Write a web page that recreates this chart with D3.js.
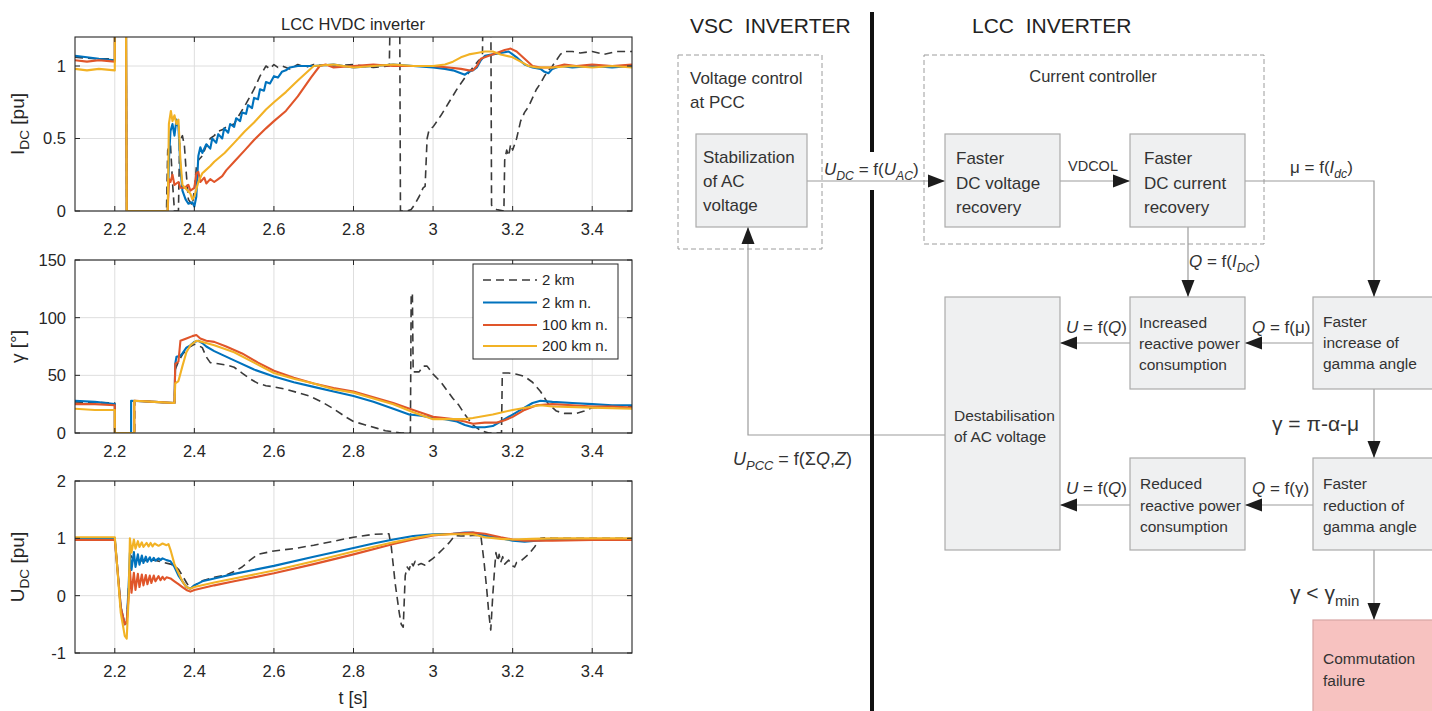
<!DOCTYPE html>
<html>
<head>
<meta charset="utf-8">
<script src="https://cdn.jsdelivr.net/npm/d3@7"></script>
<style>
  body { margin: 0; background: #fff; }
  svg { display: block; font-family: "Liberation Sans", Arial, sans-serif; }
</style>
</head>
<body>
<svg id="fig" width="1432" height="711"></svg>
<script>
// ---- data ----
const tTicks = [2.2, 2.4, 2.6, 2.8, 3, 3.2, 3.4];
const idcTicks = [0, 0.5, 1];
const gammaTicks = [0, 50, 100, 150];
const udcTicks = [-1, 0, 1, 2];
const seriesNames = ['2 km', '2 km n.', '100 km n.', '200 km n.'];

// I_DC [pu]  (values above 1.2 are off the axes and get clipped)
const idc2km = [[2.1,1.06],[2.15,1.05],[2.2,1.05],[2.2,1.5],[2.228,1.5],[2.23,0],[2.33,0],[2.333,0.42],[2.34,0.46],[2.345,0.2],[2.35,0],[2.36,0],[2.363,0.48],[2.37,0.52],[2.375,0.45],[2.38,0.25],[2.385,0.08],[2.395,0.04],[2.4,0.15],[2.405,0.3],[2.41,0.35],[2.42,0.38],[2.43,0.45],[2.44,0.5],[2.45,0.52],[2.46,0.55],[2.47,0.56],[2.48,0.58],[2.5,0.6],[2.51,0.65],[2.53,0.74],[2.55,0.84],[2.565,0.93],[2.58,1.0],[2.59,0.98],[2.6,1.01],[2.61,0.99],[2.62,1.0],[2.64,0.98],[2.66,1.01],[2.68,0.99],[2.7,1.01],[2.75,1.0],[2.8,1.01],[2.85,0.99],[2.89,1.0],[2.893,1.5],[2.916,1.5],[2.918,0],[2.935,0],[2.945,0.01],[2.955,0.05],[2.965,0.1],[2.975,0.16],[2.98,0.17],[2.985,0.5],[2.99,0.56],[3.0,0.58],[3.01,0.62],[3.02,0.66],[3.04,0.75],[3.06,0.84],[3.08,0.92],[3.1,0.99],[3.115,1.04],[3.124,1.05],[3.126,1.5],[3.145,1.5],[3.147,0.04],[3.16,0.01],[3.178,0.0],[3.18,0.35],[3.185,0.42],[3.19,0.38],[3.195,0.46],[3.2,0.42],[3.21,0.5],[3.22,0.62],[3.23,0.68],[3.24,0.72],[3.25,0.78],[3.26,0.84],[3.27,0.88],[3.28,0.93],[3.29,0.97],[3.3,1.0],[3.31,1.04],[3.32,1.08],[3.33,1.1],[3.35,1.1],[3.37,1.09],[3.4,1.1],[3.43,1.08],[3.46,1.1],[3.5,1.1]];
const idc2kmN = [[2.1,1.07],[2.13,1.06],[2.16,1.05],[2.2,1.04],[2.2,1.5],[2.228,1.5],[2.23,0],[2.333,0],[2.336,0.35],[2.34,0.55],[2.345,0.6],[2.35,0.52],[2.355,0.63],[2.36,0.58],[2.365,0.3],[2.37,0.14],[2.378,0.08],[2.385,0.05],[2.395,0.06],[2.4,0.03],[2.405,0.1],[2.41,0.38],[2.415,0.44],[2.42,0.4],[2.43,0.46],[2.44,0.43],[2.445,0.5],[2.455,0.47],[2.46,0.53],[2.47,0.5],[2.475,0.57],[2.485,0.54],[2.49,0.6],[2.5,0.58],[2.505,0.64],[2.515,0.62],[2.52,0.68],[2.53,0.67],[2.535,0.73],[2.545,0.71],[2.55,0.78],[2.56,0.77],[2.565,0.84],[2.575,0.83],[2.58,0.89],[2.59,0.88],[2.6,0.93],[2.61,0.92],[2.62,0.96],[2.63,0.97],[2.64,0.99],[2.66,1.0],[2.7,1.0],[2.75,1.01],[2.8,0.99],[2.85,1.0],[2.9,1.01],[2.95,1.0],[3.0,0.99],[3.03,0.98],[3.05,0.97],[3.07,0.95],[3.08,0.94],[3.09,0.96],[3.1,0.97],[3.11,0.99],[3.12,1.04],[3.13,1.07],[3.15,1.08],[3.17,1.09],[3.19,1.1],[3.2,1.08],[3.21,1.06],[3.23,1.01],[3.25,0.99],[3.27,0.98],[3.28,0.96],[3.29,0.95],[3.3,0.98],[3.32,1.0],[3.35,0.99],[3.4,1.0],[3.45,0.99],[3.5,1.0]];
const idc100kmN = [[2.1,1.04],[2.13,1.03],[2.16,1.04],[2.2,1.03],[2.2,1.5],[2.228,1.5],[2.23,0],[2.333,0],[2.336,0.22],[2.34,0.2],[2.345,0.25],[2.35,0.18],[2.36,0.2],[2.365,0.16],[2.375,0.16],[2.385,0.18],[2.39,0.14],[2.4,0.16],[2.405,0.26],[2.41,0.27],[2.415,0.2],[2.425,0.23],[2.43,0.19],[2.44,0.22],[2.45,0.2],[2.46,0.22],[2.47,0.24],[2.48,0.28],[2.5,0.34],[2.527,0.42],[2.55,0.49],[2.58,0.57],[2.6,0.62],[2.63,0.69],[2.66,0.79],[2.693,0.92],[2.715,1.0],[2.73,1.01],[2.75,0.99],[2.8,1.0],[2.85,1.01],[2.9,1.0],[2.95,1.0],[3.0,1.0],[3.04,0.99],[3.07,0.98],[3.09,0.97],[3.1,0.97],[3.11,1.0],[3.12,1.05],[3.14,1.07],[3.16,1.09],[3.18,1.11],[3.195,1.12],[3.21,1.1],[3.23,1.05],[3.25,1.0],[3.27,0.99],[3.3,0.99],[3.33,1.01],[3.36,1.0],[3.4,1.01],[3.45,1.0],[3.5,1.01]];
const idc200kmN = [[2.1,0.98],[2.13,0.97],[2.16,0.98],[2.2,0.97],[2.2,1.5],[2.228,1.5],[2.23,0],[2.333,0],[2.336,0.6],[2.341,0.69],[2.345,0.62],[2.35,0.66],[2.355,0.6],[2.36,0.63],[2.365,0.35],[2.37,0.18],[2.38,0.15],[2.39,0.12],[2.395,0.08],[2.4,0.1],[2.41,0.2],[2.42,0.26],[2.424,0.27],[2.44,0.31],[2.45,0.34],[2.476,0.4],[2.5,0.47],[2.527,0.55],[2.55,0.61],[2.58,0.7],[2.6,0.75],[2.63,0.82],[2.66,0.9],[2.68,0.95],[2.7,1.0],[2.75,1.01],[2.8,0.99],[2.85,1.0],[2.9,1.01],[2.95,1.0],[3.0,1.0],[3.03,1.01],[3.05,1.03],[3.07,1.06],[3.09,1.08],[3.11,1.09],[3.13,1.1],[3.15,1.1],[3.17,1.08],[3.2,1.06],[3.22,1.03],[3.24,1.0],[3.26,0.99],[3.3,0.99],[3.35,1.0],[3.4,0.99],[3.45,1.0],[3.5,0.99]];

// gamma [deg]
const gamma2km = [[2.1,27],[2.2,26],[2.2,0],[2.25,0],[2.25,28],[2.3,27],[2.35,26],[2.352,55],[2.36,62],[2.37,68],[2.38,72],[2.39,75],[2.4,77],[2.41,76],[2.42,74],[2.43,66],[2.44,61],[2.46,60],[2.48,59],[2.5,57],[2.52,52],[2.54,47],[2.56,43],[2.58,41],[2.6,40],[2.63,38],[2.66,35],[2.69,32],[2.72,27],[2.75,21],[2.78,14],[2.8,10],[2.83,7],[2.86,4],[2.88,2],[2.9,1],[2.92,0],[2.943,0],[2.945,121],[2.948,121],[2.95,53],[2.965,53],[2.975,58],[2.985,58],[3.0,51],[3.02,44],[3.035,37],[3.05,30],[3.065,24],[3.08,16],[3.1,7],[3.12,2],[3.14,0],[3.172,0],[3.174,52],[3.19,52],[3.21,51],[3.23,49],[3.25,44],[3.27,36],[3.29,25],[3.31,19],[3.33,17],[3.36,17],[3.38,19],[3.4,22],[3.45,23],[3.5,23]];
const gamma2kmN = [[2.1,28],[2.15,27],[2.2,25],[2.2,0],[2.241,0],[2.241,28],[2.3,27],[2.35,26],[2.352,60],[2.355,66],[2.365,67],[2.37,69],[2.38,74],[2.39,76],[2.4,79],[2.41,80],[2.42,78],[2.43,75],[2.45,71],[2.5,63],[2.55,55],[2.6,49],[2.65,44],[2.7,40],[2.75,36],[2.8,32],[2.85,27],[2.9,21],[2.94,16],[2.97,15],[3.0,13],[3.03,12],[3.06,10],[3.08,7],[3.1,5],[3.13,5],[3.15,6],[3.17,10],[3.2,16],[3.22,20],[3.25,26],[3.27,28],[3.3,27],[3.35,26],[3.4,25],[3.45,24],[3.5,24]];
const gamma100kmN = [[2.1,25],[2.15,25],[2.2,24],[2.2,0],[2.249,0],[2.249,28],[2.3,27],[2.35,26],[2.352,60],[2.36,62],[2.365,80],[2.38,82],[2.395,84],[2.405,85],[2.415,82],[2.43,80],[2.45,79],[2.48,75],[2.52,69],[2.56,61],[2.6,54],[2.65,48],[2.7,43],[2.75,39],[2.8,36],[2.85,31],[2.9,26],[2.95,20],[3.0,14],[3.05,12],[3.08,10],[3.1,8],[3.13,9],[3.16,9],[3.18,11],[3.2,14],[3.23,20],[3.26,24],[3.3,25],[3.35,24],[3.4,23],[3.45,23],[3.5,22]];
const gamma200kmN = [[2.1,21],[2.15,20],[2.2,20],[2.2,0],[2.249,0],[2.249,28],[2.3,27],[2.35,26],[2.352,43],[2.36,45],[2.37,58],[2.38,70],[2.39,76],[2.405,80],[2.42,79],[2.45,76],[2.5,70],[2.55,61],[2.6,52],[2.65,47],[2.7,43],[2.75,38],[2.8,35],[2.85,30],[2.9,25],[2.95,18],[3.0,12],[3.05,12],[3.08,12],[3.1,13],[3.15,16],[3.2,20],[3.25,23],[3.27,24],[3.3,23],[3.4,22],[3.5,21]];

// U_DC [pu]
const udc2km = [[2.1,1.0],[2.2,1.0],[2.205,0.6],[2.215,-0.2],[2.225,-0.5],[2.23,-0.48],[2.235,0.2],[2.24,0.7],[2.25,0.6],[2.3,0.62],[2.34,0.55],[2.35,0.52],[2.36,0.46],[2.37,0.35],[2.38,0.23],[2.39,0.12],[2.4,0.18],[2.42,0.26],[2.45,0.32],[2.48,0.36],[2.5,0.42],[2.52,0.5],[2.54,0.62],[2.56,0.72],[2.6,0.78],[2.65,0.82],[2.7,0.88],[2.75,0.95],[2.8,1.02],[2.85,1.07],[2.889,1.08],[2.895,0.85],[2.905,0.2],[2.915,-0.3],[2.92,-0.5],[2.925,-0.55],[2.93,0.35],[2.935,0.5],[2.94,0.45],[2.945,0.58],[2.95,0.52],[2.955,0.6],[2.96,0.53],[2.97,0.56],[2.98,0.53],[2.99,0.6],[3.0,0.65],[3.02,0.78],[3.04,0.92],[3.055,1.05],[3.07,1.04],[3.1,1.05],[3.12,1.05],[3.128,0.6],[3.135,0.1],[3.14,-0.3],[3.145,-0.6],[3.15,0.0],[3.155,0.5],[3.158,0.75],[3.163,0.6],[3.166,0.72],[3.17,0.58],[3.175,0.68],[3.18,0.55],[3.19,0.62],[3.2,0.52],[3.205,0.5],[3.21,0.58],[3.22,0.6],[3.24,0.72],[3.255,0.85],[3.27,1.0],[3.28,1.01],[3.3,1.0],[3.35,1.0],[3.4,1.0],[3.5,1.0]];
const udc2kmN = [[2.1,1.0],[2.2,1.0],[2.205,0.6],[2.215,-0.2],[2.225,-0.5],[2.23,-0.48],[2.235,0.2],[2.238,0.75],[2.242,0.45],[2.248,0.76],[2.252,0.5],[2.258,0.72],[2.262,0.54],[2.268,0.7],[2.272,0.57],[2.278,0.68],[2.282,0.59],[2.288,0.67],[2.292,0.6],[2.298,0.66],[2.302,0.61],[2.31,0.65],[2.315,0.62],[2.32,0.65],[2.33,0.62],[2.34,0.6],[2.35,0.5],[2.36,0.35],[2.37,0.25],[2.38,0.15],[2.39,0.12],[2.4,0.18],[2.42,0.25],[2.45,0.3],[2.5,0.38],[2.6,0.52],[2.7,0.68],[2.8,0.83],[2.85,0.91],[2.9,0.98],[2.95,1.04],[3.0,1.07],[3.05,1.08],[3.08,1.1],[3.1,1.1],[3.13,1.05],[3.17,1.0],[3.2,0.96],[3.23,0.94],[3.26,0.96],[3.3,0.98],[3.4,0.98],[3.5,0.99]];
const udc100kmN = [[2.1,0.97],[2.2,0.97],[2.205,0.6],[2.215,-0.2],[2.225,-0.5],[2.23,-0.45],[2.235,0.0],[2.238,0.45],[2.242,0.05],[2.248,0.4],[2.252,0.1],[2.258,0.38],[2.262,0.15],[2.268,0.37],[2.272,0.18],[2.278,0.36],[2.282,0.2],[2.288,0.35],[2.292,0.22],[2.298,0.35],[2.302,0.25],[2.31,0.34],[2.315,0.27],[2.32,0.33],[2.325,0.28],[2.33,0.32],[2.34,0.3],[2.35,0.25],[2.36,0.2],[2.37,0.15],[2.38,0.1],[2.39,0.07],[2.4,0.1],[2.45,0.18],[2.5,0.25],[2.6,0.39],[2.7,0.55],[2.8,0.72],[2.9,0.9],[2.95,0.98],[3.0,1.05],[3.05,1.08],[3.1,1.1],[3.13,1.08],[3.17,1.02],[3.2,0.98],[3.23,0.96],[3.3,0.96],[3.4,0.97],[3.5,0.97]];
const udc200kmN = [[2.1,1.02],[2.2,1.02],[2.205,0.6],[2.215,-0.3],[2.225,-0.7],[2.23,-0.75],[2.235,0.0],[2.238,1.0],[2.242,0.75],[2.248,0.98],[2.252,0.82],[2.258,0.95],[2.262,0.85],[2.268,0.93],[2.272,0.85],[2.28,0.92],[2.285,0.86],[2.29,0.92],[2.295,0.86],[2.3,0.91],[2.31,0.87],[2.32,0.91],[2.33,0.88],[2.335,0.9],[2.34,0.8],[2.35,0.55],[2.36,0.4],[2.37,0.25],[2.38,0.15],[2.39,0.12],[2.4,0.15],[2.45,0.23],[2.5,0.3],[2.6,0.44],[2.7,0.6],[2.8,0.77],[2.9,0.93],[2.95,1.0],[3.0,1.06],[3.05,1.07],[3.1,1.07],[3.13,1.02],[3.17,0.99],[3.2,0.98],[3.25,0.99],[3.3,1.0],[3.5,1.0]];

// ---- styles ----
const FONT = '"Liberation Sans", Arial, sans-serif';
const AXC = '#262626';
const lineStyles = [
  { color: '#3a3a3a', width: 1.6, dash: '8,5' },
  { color: '#0072BD', width: 2.1, dash: null },
  { color: '#E0552A', width: 2.1, dash: null },
  { color: '#F2B225', width: 2.1, dash: null }
];

const svg = d3.select('#fig');
const x = d3.scaleLinear().domain([2.1, 3.5]).range([75, 632]);

const panels = [
  { id: 'p1', top: 37, bottom: 211, domain: [0, 1.2], ticks: idcTicks, series: [idc2km, idc2kmN, idc100kmN, idc200kmN],
    label: [{ t: 'I' }, { t: 'DC', sub: true }, { t: ' [pu]' }] },
  { id: 'p2', top: 260, bottom: 433, domain: [0, 150], ticks: gammaTicks, series: [gamma2km, gamma2kmN, gamma100kmN, gamma200kmN],
    label: [{ t: 'γ [°]' }] },
  { id: 'p3', top: 481, bottom: 653, domain: [-1, 2], ticks: udcTicks, series: [udc2km, udc2kmN, udc100kmN, udc200kmN],
    label: [{ t: 'U' }, { t: 'DC', sub: true }, { t: ' [pu]' }] }
];

// rich text helper: parts with italic / subscript
function rich(g, px, py, parts, size, opts = {}) {
  const t = g.append('text').attr('x', px).attr('y', py)
    .attr('font-size', size).attr('fill', opts.fill || '#333');
  if (opts.anchor) t.attr('text-anchor', opts.anchor);
  if (opts.transform) t.attr('transform', opts.transform);
  let shift = 0;
  parts.forEach(p => {
    const s = t.append('tspan').text(p.t);
    const target = p.sub ? size * 0.28 : 0;
    if (target !== shift) { s.attr('dy', target - shift); shift = target; }
    if (p.sub) s.attr('font-size', size * (p.subSize || 0.72));
    if (p.i) s.attr('font-style', 'italic');
  });
  return t;
}

const [x0, x1] = x.range();
panels.forEach(p => {
  const y = d3.scaleLinear().domain(p.domain).range([p.bottom, p.top]);
  const g = svg.append('g');

  g.append('rect').attr('x', x0).attr('y', p.top).attr('width', x1 - x0).attr('height', p.bottom - p.top).attr('fill', '#fff');

  // grid
  g.selectAll('.gx').data(tTicks).join('line')
    .attr('x1', d => x(d)).attr('x2', d => x(d)).attr('y1', p.top).attr('y2', p.bottom)
    .attr('stroke', '#dedede').attr('stroke-width', 1);
  g.selectAll('.gy').data(p.ticks).join('line')
    .attr('x1', x0).attr('x2', x1).attr('y1', d => y(d)).attr('y2', d => y(d))
    .attr('stroke', '#dedede').attr('stroke-width', 1);

  // series
  svg.append('clipPath').attr('id', 'clip-' + p.id).append('rect')
    .attr('x', x0).attr('y', p.top).attr('width', x1 - x0).attr('height', p.bottom - p.top);
  const line = d3.line().x(d => x(d[0])).y(d => y(d[1]));
  const lg = g.append('g').attr('clip-path', `url(#clip-${p.id})`);
  p.series.forEach((s, i) => {
    const st = lineStyles[i];
    lg.append('path').datum(s).attr('d', line).attr('fill', 'none')
      .attr('stroke', st.color).attr('stroke-width', st.width)
      .attr('stroke-dasharray', st.dash).attr('stroke-linejoin', 'round');
  });

  // box + ticks
  g.append('rect').attr('x', x0).attr('y', p.top).attr('width', x1 - x0).attr('height', p.bottom - p.top)
    .attr('fill', 'none').attr('stroke', AXC).attr('stroke-width', 1.1);
  const tl = 5;
  tTicks.forEach(v => {
    g.append('line').attr('x1', x(v)).attr('x2', x(v)).attr('y1', p.bottom).attr('y2', p.bottom - tl).attr('stroke', AXC);
    g.append('line').attr('x1', x(v)).attr('x2', x(v)).attr('y1', p.top).attr('y2', p.top + tl).attr('stroke', AXC);
    g.append('text').attr('x', x(v)).attr('y', p.bottom + 24).attr('text-anchor', 'middle')
      .attr('font-size', 16.5).attr('fill', AXC).text(String(v));
  });
  p.ticks.forEach(v => {
    g.append('line').attr('x1', x0).attr('x2', x0 + tl).attr('y1', y(v)).attr('y2', y(v)).attr('stroke', AXC);
    g.append('line').attr('x1', x1).attr('x2', x1 - tl).attr('y1', y(v)).attr('y2', y(v)).attr('stroke', AXC);
    g.append('text').attr('x', 66).attr('y', y(v)).attr('dy', '0.36em').attr('text-anchor', 'end')
      .attr('font-size', 16.5).attr('fill', AXC).text(String(v));
  });

  // y label
  const cy = (p.top + p.bottom) / 2;
  rich(g, 0, 0, p.label, 19, { fill: AXC, anchor: 'middle', transform: `translate(24,${cy}) rotate(-90)` });
});

// title and x label
svg.append('text').attr('x', 353).attr('y', 30).attr('text-anchor', 'middle')
  .attr('font-size', 16.5).attr('fill', AXC).text('LCC HVDC inverter');
svg.append('text').attr('x', 353).attr('y', 704).attr('text-anchor', 'middle')
  .attr('font-size', 18).attr('fill', AXC).text('t [s]');

// legend in the gamma panel
const leg = svg.append('g');
leg.append('rect').attr('x', 473).attr('y', 264).attr('width', 145).attr('height', 95)
  .attr('fill', '#fff').attr('stroke', AXC).attr('stroke-width', 1);
const legY = [280, 302.5, 325, 346];
seriesNames.forEach((n, i) => {
  const st = lineStyles[i];
  leg.append('line').attr('x1', 483).attr('x2', 537).attr('y1', legY[i]).attr('y2', legY[i])
    .attr('stroke', st.color).attr('stroke-width', st.width).attr('stroke-dasharray', st.dash);
  leg.append('text').attr('x', 542).attr('y', legY[i]).attr('dy', '0.36em')
    .attr('font-size', 15).attr('fill', AXC).text(n);
});

// ---- block diagram ----
const dg = svg.append('g');
const LINE = '#9c9c9c';
const BOXF = '#eff0f1', BOXS = '#ababab';

// dashed controller frames
[[678, 55, 144, 194], [924, 55, 340, 189]].forEach(r => {
  dg.append('rect').attr('x', r[0]).attr('y', r[1]).attr('width', r[2]).attr('height', r[3])
    .attr('fill', 'none').attr('stroke', LINE).attr('stroke-dasharray', '5,3');
});

const boxes = [
  { id: 'stab', r: [696, 134, 111, 93], lines: ['Stabilization', 'of AC', 'voltage'], tx: 703, ty: [163, 187, 211], fs: 17 },
  { id: 'fdv', r: [945, 134, 115, 93], lines: ['Faster', 'DC voltage', 'recovery'], tx: 956, ty: [164, 189, 213], fs: 17 },
  { id: 'fdc', r: [1130, 134, 115, 93], lines: ['Faster', 'DC current', 'recovery'], tx: 1144, ty: [164, 189, 213], fs: 17 },
  { id: 'incr', r: [1130, 297, 115, 92], lines: ['Increased', 'reactive power', 'consumption'], tx: 1139, ty: [328, 349, 370], fs: 15.5 },
  { id: 'finc', r: [1313, 297, 130, 92], lines: ['Faster', 'increase of', 'gamma angle'], tx: 1323, ty: [327, 348, 369], fs: 15.5 },
  { id: 'dest', r: [945, 297, 115, 253], lines: ['Destabilisation', 'of AC voltage'], tx: 954, ty: [421, 442], fs: 15.5 },
  { id: 'redu', r: [1130, 458, 115, 92], lines: ['Reduced', 'reactive power', 'consumption'], tx: 1140, ty: [489, 511, 532], fs: 15.5 },
  { id: 'fred', r: [1313, 458, 130, 92], lines: ['Faster', 'reduction of', 'gamma angle'], tx: 1323, ty: [489, 511, 532], fs: 15.5 },
  { id: 'comm', r: [1313, 620, 130, 100], lines: ['Commutation', 'failure'], tx: 1323, ty: [664, 686], fs: 15.5, fill: '#f7c2c0', stroke: '#d8a5a4' }
];

// connectors (drawn under boxes' arrows)
function conn(pts, arrow) {
  dg.append('path').attr('d', d3.line()(pts)).attr('fill', 'none').attr('stroke', LINE).attr('stroke-width', 1.2);
  if (!arrow) return;
  const [a, b] = pts.slice(-2);
  const ang = Math.atan2(b[1] - a[1], b[0] - a[0]);
  const L = 17, W = 6.5;
  const bx = b[0] - L * Math.cos(ang), by = b[1] - L * Math.sin(ang);
  const nx = -Math.sin(ang) * W, ny = Math.cos(ang) * W;
  dg.append('path').attr('d', `M${b[0]},${b[1]}L${bx + nx},${by + ny}L${bx - nx},${by - ny}Z`).attr('fill', '#1c1c1c');
}
conn([[807, 181], [945, 181]], true);
conn([[1060, 181], [1130, 181]], true);
conn([[1245, 181], [1374, 181], [1374, 297]], true);
conn([[1188, 227], [1188, 297]], true);
conn([[1313, 343], [1245, 343]], true);
conn([[1130, 343], [1060, 343]], true);
conn([[1374, 389], [1374, 458]], true);
conn([[1313, 505], [1245, 505]], true);
conn([[1130, 505], [1060, 505]], true);
conn([[945, 435], [748, 435], [748, 227]], true);
conn([[1374, 550], [1374, 620]], true);

boxes.forEach(b => {
  dg.append('rect').attr('x', b.r[0]).attr('y', b.r[1]).attr('width', b.r[2]).attr('height', b.r[3])
    .attr('fill', b.fill || BOXF).attr('stroke', b.stroke || BOXS).attr('stroke-width', 1.2);
  b.lines.forEach((s, i) => {
    dg.append('text').attr('x', b.tx).attr('y', b.ty[i]).attr('font-size', b.fs).attr('fill', '#333').text(s);
  });
});

// separator between the two inverters
[[12, 152], [190, 711]].forEach(s => {
  dg.append('line').attr('x1', 872).attr('x2', 872).attr('y1', s[0]).attr('y2', s[1])
    .attr('stroke', '#111').attr('stroke-width', 4);
});

// headings and frame titles
dg.append('text').attr('x', 690).attr('y', 33).attr('font-size', 21).attr('fill', '#222').text('VSC\u00a0 INVERTER');
dg.append('text').attr('x', 972).attr('y', 33).attr('font-size', 21).attr('fill', '#222').text('LCC\u00a0 INVERTER');
dg.append('text').attr('x', 690).attr('y', 84).attr('font-size', 17).attr('fill', '#333').text('Voltage control');
dg.append('text').attr('x', 690).attr('y', 108).attr('font-size', 17).attr('fill', '#333').text('at PCC');
dg.append('text').attr('x', 1093).attr('y', 82).attr('text-anchor', 'middle').attr('font-size', 16.5).attr('fill', '#333').text('Current controller');

// equation labels on the arrows
rich(dg, 824, 175, [{ t: 'U', i: true }, { t: 'DC', i: true, sub: true }, { t: ' = f(' }, { t: 'U', i: true }, { t: 'AC', i: true, sub: true }, { t: ')' }], 17);
rich(dg, 1068, 171, [{ t: 'VDCOL' }], 14.5);
rich(dg, 1290, 173, [{ t: 'μ = f(' }, { t: 'I', i: true }, { t: 'dc', i: true, sub: true }, { t: ')' }], 17);
rich(dg, 1189, 267, [{ t: 'Q', i: true }, { t: ' = f(' }, { t: 'I', i: true }, { t: 'DC', i: true, sub: true }, { t: ')' }], 17);
rich(dg, 1066, 333, [{ t: 'U', i: true }, { t: ' = f(' }, { t: 'Q', i: true }, { t: ')' }], 17);
rich(dg, 1252, 333, [{ t: 'Q', i: true }, { t: ' = f(μ)' }], 17);
rich(dg, 1272, 431, [{ t: 'γ = π-α-μ' }], 21);
rich(dg, 733, 465, [{ t: 'U', i: true }, { t: 'PCC', i: true, sub: true }, { t: ' = f(Σ' }, { t: 'Q', i: true }, { t: ',' }, { t: 'Z', i: true }, { t: ')' }], 18);
rich(dg, 1066, 494, [{ t: 'U', i: true }, { t: ' = f(' }, { t: 'Q', i: true }, { t: ')' }], 17);
rich(dg, 1252, 494, [{ t: 'Q', i: true }, { t: ' = f(γ)' }], 17);
rich(dg, 1290, 600, [{ t: 'γ < γ' }, { t: 'min', sub: true, subSize: 0.72 }], 21);
</script>
</body>
</html>
